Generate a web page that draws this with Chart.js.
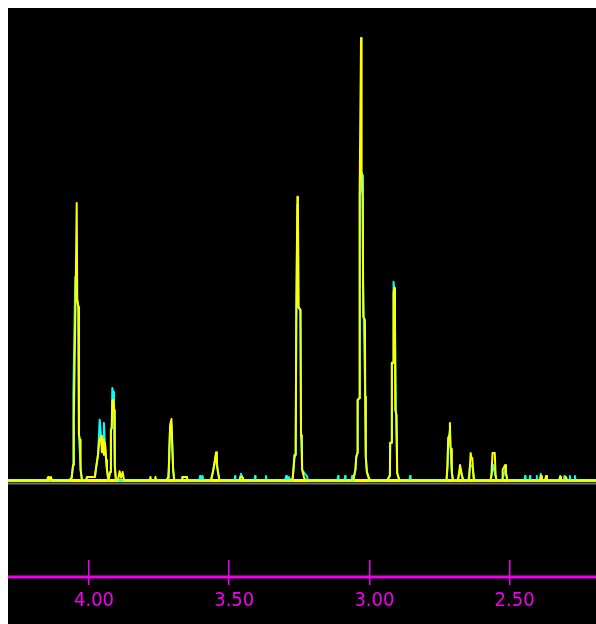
<!DOCTYPE html>
<html>
<head>
<meta charset="utf-8">
<script src="https://cdn.jsdelivr.net/npm/chart.js@4/dist/chart.umd.min.js"></script>
<style>
  html, body { margin: 0; padding: 0; background: #ffffff; }
  #plot { position: absolute; left: 8px; top: 8px; width: 588px; height: 616px; background: #000000; }
  canvas { display: block; }
</style>
</head>
<body>
<div id="plot"><canvas id="spectrum" width="588" height="616"></canvas></div>
<script>
// Chemical shift (ppm) and relative intensity of the two overlaid 1H traces
const shiftA = [
  4.289, 4.150, 4.146, 4.143, 4.136, 4.132, 4.071, 4.062, 4.057, 4.054, 4.048, 4.044, 4.042, 4.038, 4.036, 4.032, 4.030, 4.025,
  4.011, 4.007, 3.979, 3.975, 3.968, 3.963, 3.957, 3.954, 3.950, 3.947, 3.943, 3.939, 3.936, 3.931,
  3.925, 3.922, 3.919, 3.917, 3.913, 3.910, 3.908, 3.904, 3.897, 3.891, 3.886, 3.880, 3.875,
  3.783, 3.781, 3.779, 3.765, 3.763, 3.761,
  3.725, 3.718, 3.714, 3.711, 3.706, 3.703, 3.700, 3.696, 3.668, 3.667, 3.651, 3.649,
  3.565, 3.558, 3.554, 3.547, 3.544, 3.540, 3.535, 3.463, 3.460, 3.453, 3.449,
  3.290, 3.274, 3.271, 3.267, 3.263, 3.261, 3.257, 3.255, 3.253, 3.246, 3.244, 3.241, 3.240, 3.233, 3.226,
  3.069, 3.057, 3.050, 3.047, 3.043, 3.042, 3.036, 3.035, 3.030, 3.028, 3.024, 3.022, 3.016, 3.015, 3.013, 3.009, 3.001, 2.994,
  2.937, 2.928, 2.927, 2.926, 2.921, 2.920, 2.915, 2.914, 2.911, 2.909, 2.908, 2.903, 2.901, 2.893,
  2.734, 2.725, 2.722, 2.719, 2.715, 2.713, 2.711, 2.709, 2.706, 2.702,
  2.686, 2.682, 2.677, 2.672, 2.668, 2.664,
  2.647, 2.644, 2.639, 2.636, 2.633, 2.629, 2.625,
  2.568, 2.565, 2.561, 2.553, 2.550, 2.547,
  2.527, 2.525, 2.516, 2.513, 2.508,
  2.392, 2.388, 2.385, 2.374, 2.370, 2.367, 2.324, 2.320, 2.317, 2.302, 2.299, 2.295, 2.192
];
const intensityA = [
  0, 0, 0.8, 0, 0.8, 0, 0, 0.6, 3.5, 14.4, 40.8, 62.7, 40.8, 39.2, 10.3, 9.2, 2.4, 0,
  0, 0.8, 0.8, 2.8, 5.8, 9.2, 10.1, 6.4, 9.2, 5.8, 8.5, 4.6, 2.4, 0,
  1.9, 11.4, 11.9, 18.0, 18.2, 15.9, 3.1, 0, 0, 2.1, 0.6, 1.9, 0,
  0, 0.8, 0, 0, 0.8, 0,
  0, 0.6, 4.6, 12.5, 13.9, 7.6, 2.4, 0, 0, 0.8, 0.8, 0,
  0, 1.9, 3.5, 6.4, 3.3, 1.9, 0, 0, 0.8, 0.8, 0,
  0, 0.3, 2.4, 5.3, 5.8, 35.8, 64.1, 62.3, 39.2, 38.5, 10.3, 9.2, 2.4, 0.6, 0,
  0, 0.3, 2.4, 5.3, 6.2, 18.2, 18.6, 64.5, 100, 69.7, 64.1, 37.0, 36.3, 18.9, 5.3, 1.9, 0.3, 0,
  0, 1.0, 1.7, 8.5, 8.5, 26.6, 26.6, 42.4, 43.5, 37.0, 15.9, 14.8, 1.7, 0,
  0, 0.1, 3.1, 9.6, 10.1, 13.0, 7.6, 7.1, 1.7, 0,
  0, 0.8, 3.5, 1.9, 0.6, 0,
  0, 0.6, 6.2, 5.1, 5.1, 0.6, 0,
  0, 1.2, 6.2, 6.2, 1.2, 0,
  0, 2.4, 3.5, 1.7, 0,
  0, 1.0, 0, 0, 1.0, 0, 0, 0.8, 0, 0, 0.8, 0, 0
];

const shiftB = [
  4.289, 4.071, 4.062, 4.057, 4.056, 4.049, 4.046, 4.042, 4.038, 4.036, 4.030, 4.025,
  4.011, 4.007, 3.979, 3.975, 3.968, 3.962, 3.959, 3.955, 3.953, 3.950, 3.947, 3.944, 3.939, 3.936, 3.931,
  3.925, 3.922, 3.919, 3.917, 3.914, 3.911, 3.908, 3.904,
  3.725, 3.718, 3.715, 3.711, 3.706, 3.703, 3.700, 3.696, 3.668, 3.667, 3.651, 3.649,
  3.606, 3.604, 3.602, 3.596, 3.595, 3.593,
  3.565, 3.554, 3.547, 3.540, 3.535,
  3.481, 3.479, 3.478, 3.463, 3.458, 3.449, 3.410, 3.408, 3.406, 3.371, 3.369, 3.367,
  3.301, 3.297, 3.294, 3.287, 3.283, 3.274, 3.271, 3.268, 3.263, 3.261, 3.257, 3.255, 3.253, 3.246, 3.244, 3.240, 3.230, 3.223, 3.219,
  3.114, 3.112, 3.110, 3.089, 3.087, 3.085, 3.064, 3.062, 3.060,
  3.057, 3.050, 3.047, 3.043, 3.042, 3.036, 3.034, 3.032, 3.029, 3.025, 3.023, 3.020, 3.015, 3.013, 3.009, 3.001, 2.994,
  2.937, 2.928, 2.927, 2.926, 2.921, 2.920, 2.915, 2.914, 2.911, 2.909, 2.905, 2.901, 2.893,
  2.857, 2.855, 2.853,
  2.734, 2.725, 2.721, 2.719, 2.713, 2.711, 2.706, 2.702,
  2.686, 2.677, 2.668, 2.664, 2.647, 2.641, 2.633, 2.625,
  2.568, 2.558, 2.547, 2.527, 2.516, 2.508,
  2.447, 2.445, 2.443, 2.429, 2.427, 2.426, 2.405, 2.403, 2.402, 2.392, 2.389, 2.386, 2.372, 2.370, 2.368,
  2.322, 2.320, 2.319, 2.307, 2.305, 2.303, 2.286, 2.285, 2.283, 2.269, 2.267, 2.265, 2.192
];
const intensityB = [
  0, 0, 0.6, 3.5, 19.1, 46.0, 43.1, 40.8, 39.2, 10.3, 2.4, 0,
  0, 0.8, 0.8, 2.8, 5.8, 13.7, 11.4, 8.0, 9.8, 7.3, 13.0, 9.2, 4.6, 2.4, 0,
  1.9, 11.4, 11.9, 20.9, 20.0, 17.1, 3.1, 0,
  0, 0.6, 6.2, 11.4, 12.5, 7.6, 2.4, 0, 0, 0.8, 0.8, 0,
  0, 1.0, 0, 0, 1.0, 0,
  0, 3.3, 5.8, 1.9, 0,
  0, 1.0, 0, 0, 1.5, 0, 0, 1.0, 0, 0, 1.0, 0,
  0, 1.0, 0, 0.8, 0, 0.3, 2.4, 5.8, 5.8, 35.8, 62.3, 60.0, 39.2, 38.5, 10.3, 2.4, 1.5, 1.0, 0,
  0, 1.0, 0, 0, 1.0, 0, 0, 1.0, 0,
  0.3, 2.4, 5.3, 6.2, 18.2, 18.6, 64.5, 65.7, 69.7, 69.0, 45.3, 36.3, 18.9, 5.3, 1.9, 0.3, 0,
  0, 1.0, 1.7, 8.5, 8.5, 26.6, 26.6, 44.9, 43.1, 36.3, 13.7, 1.7, 0,
  0, 1.0, 0,
  0, 0.1, 3.5, 9.2, 11.4, 7.6, 1.7, 0,
  0, 2.4, 0.6, 0, 0, 3.5, 3.3, 0,
  0, 3.5, 0, 0, 2.4, 0,
  0, 1.0, 0, 0, 1.0, 0, 0, 1.0, 0, 0, 1.5, 0, 0, 1.0, 0,
  0, 1.0, 0, 0, 1.0, 0, 0, 1.0, 0, 0, 1.0, 0, 0
];

// Axis range and labelled ticks (ppm, decreasing to the right)
const shiftRange = [2.192, 4.289];
const intensityRange = [-17.97, 106.78];
const tickShifts = [4.00, 3.50, 3.00, 2.50];

const YELLOW = '#ffff00';
const CYAN = '#00ffff';
const MAGENTA = '#f000f0';

const toPoints = (xs, ys) => xs.map((x, i) => ({ x: x, y: ys[i] }));

// Baseline (with its grey shadow) under the traces, and the ppm rule across the axis ticks
const spectrumDecor = {
  id: 'spectrumDecor',
  beforeDatasetsDraw(chart) {
    const { ctx } = chart;
    const y0 = chart.scales.y.getPixelForValue(0);
    ctx.save();
    ctx.lineWidth = 2;
    ctx.strokeStyle = '#707070';
    ctx.beginPath();
    ctx.moveTo(0, y0 + 3);
    ctx.lineTo(chart.width, y0 + 3);
    ctx.stroke();
    ctx.lineWidth = 3;
    ctx.strokeStyle = YELLOW;
    ctx.beginPath();
    ctx.moveTo(0, y0);
    ctx.lineTo(chart.width, y0);
    ctx.stroke();
    ctx.restore();
  },
  afterDraw(chart) {
    const { ctx, chartArea } = chart;
    const ya = chartArea.bottom + 17;
    ctx.save();
    ctx.lineWidth = 3;
    ctx.strokeStyle = MAGENTA;
    ctx.beginPath();
    ctx.moveTo(0, ya);
    ctx.lineTo(chart.width, ya);
    ctx.stroke();
    ctx.restore();
  }
};

new Chart(document.getElementById('spectrum'), {
  type: 'line',
  data: {
    datasets: [
      {
        label: 'Trace A',
        data: toPoints(shiftA, intensityA),
        borderColor: YELLOW,
        borderWidth: 2,
        borderJoinStyle: 'round',
        pointRadius: 0,
        tension: 0,
        fill: false
      },
      {
        label: 'Trace B',
        data: toPoints(shiftB, intensityB),
        borderColor: CYAN,
        borderWidth: 2,
        borderJoinStyle: 'round',
        pointRadius: 0,
        tension: 0,
        fill: false
      }
    ]
  },
  options: {
    responsive: false,
    animation: false,
    events: [],
    layout: { padding: 0 },
    plugins: { legend: { display: false }, tooltip: { enabled: false } },
    scales: {
      x: {
        type: 'linear',
        reverse: true,
        min: shiftRange[0],
        max: shiftRange[1],
        afterBuildTicks: (scale) => { scale.ticks = tickShifts.map(v => ({ value: v })); },
        afterFit: (scale) => { scale.height = 64; },
        grid: {
          display: true,
          drawOnChartArea: false,
          drawTicks: true,
          tickLength: 25,
          color: MAGENTA,
          lineWidth: 1.5
        },
        border: { display: false },
        ticks: {
          color: MAGENTA,
          padding: 4,
          labelOffset: 5,
          maxRotation: 0,
          autoSkip: false,
          font: { family: "'Liberation Sans Narrow', 'DejaVu Sans Condensed', sans-serif", size: 20 },
          callback: (v) => Number(v).toFixed(2)
        }
      },
      y: {
        type: 'linear',
        display: false,
        min: intensityRange[0],
        max: intensityRange[1]
      }
    }
  },
  plugins: [spectrumDecor]
});
</script>
</body>
</html>
